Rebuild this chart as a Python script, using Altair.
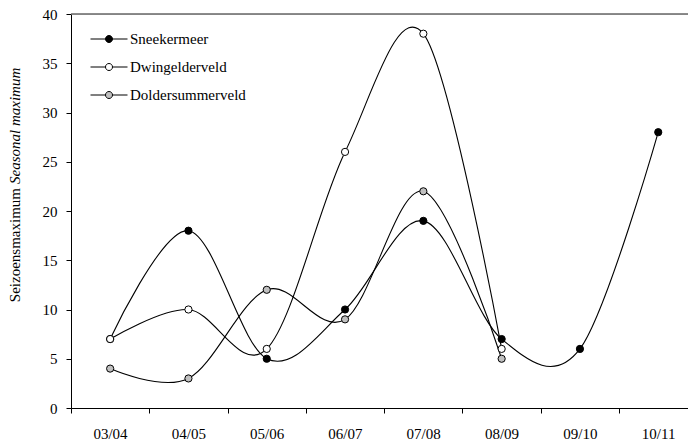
import altair as alt
import pandas as pd

seasons = ["03/04", "04/05", "05/06", "06/07", "07/08", "08/09", "09/10", "10/11"]
series_names = ["Sneekermeer", "Dwingelderveld", "Doldersummerveld"]
sneekermeer = [7, 18, 5, 10, 19, 7, 6, 28]
dwingelderveld = [7, 10, 6, 26, 38, 6]
doldersummerveld = [4, 3, 12, 9, 22, 5]
marker_fills = ["#000000", "#ffffff", "#c0c0c0"]
y_ticks = [0, 5, 10, 15, 20, 25, 30, 35, 40]

rows = []
for name, vals in zip(series_names, [sneekermeer, dwingelderveld, doldersummerveld]):
    for i, v in enumerate(vals):
        rows.append({"series": name, "season": seasons[i], "idx": i, "value": v})
df = pd.DataFrame(rows)

FONT = "'Liberation Serif', 'Times New Roman', serif"
W, H = 617, 394

label_arr = "[" + ",".join("'%s'" % s for s in seasons) + "]"
x_enc = alt.X(
    "idx:Q",
    scale=alt.Scale(domain=[-0.5, 7.38], nice=False, zero=False),
    axis=alt.Axis(
        title=None,
        values=[i - 0.5 for i in range(len(seasons))],
        labelExpr=label_arr + "[round(datum.value + 0.5)]",
        labelOffset=39,
        labelFlush=False,
        labelOverlap=False,
        tickSize=5,
        labelPadding=13,
        grid=False,
        domainColor="black",
        tickColor="black",
        labelFont=FONT,
        labelFontSize=15,
        labelColor="black",
    ),
)
y_enc = alt.Y(
    "value:Q",
    scale=alt.Scale(domain=[0, 40], nice=False),
    axis=alt.Axis(
        title=None,
        values=y_ticks,
        tickSize=5,
        labelPadding=9,
        grid=False,
        domainColor="black",
        tickColor="black",
        labelFont=FONT,
        labelFontSize=15,
        labelColor="black",
    ),
)

legend_path = ("M-1,0L-0.19,0M0.19,0L1,0M0.19,0A0.19,0.19,0,1,1,-0.19,0"
               "A0.19,0.19,0,1,1,0.19,0Z")

base = alt.Chart(df)
lines = base.mark_line(interpolate="cardinal", color="black", strokeWidth=1.1).encode(
    x=x_enc, y=y_enc, detail="series:N"
)
points = base.mark_point(filled=True, size=52, stroke="black", strokeWidth=1, opacity=1).encode(
    x=x_enc,
    y=y_enc,
    fill=alt.Fill(
        "series:N",
        scale=alt.Scale(domain=series_names, range=marker_fills),
        legend=alt.Legend(
            title=None,
            orient="none",
            legendX=19,
            legendY=6,
            symbolType=legend_path,
            symbolSize=1369,
            symbolStrokeColor="black",
            symbolStrokeWidth=1,
            labelFont=FONT,
            labelFontSize=15,
            labelColor="black",
            rowPadding=1,
            labelOffset=2,
        ),
    ),
)

top_rule = alt.Chart(alt.Data(values=[{}])).mark_rule(color="#666666", strokeWidth=1.5).encode(
    x=alt.value(0), x2=alt.value(W), y=alt.value(0)
)

title_a = alt.Chart(alt.Data(values=[{}])).mark_text(
    text="Seizoensmaximum", angle=270, align="right", baseline="middle",
    font=FONT, fontSize=15, color="black"
).encode(x=alt.value(-56), y=alt.value(188 - 14), size=alt.value(15))
title_b = alt.Chart(alt.Data(values=[{}])).mark_text(
    text="Seasonal maximum", angle=270, align="left", baseline="middle",
    font=FONT, fontSize=15, fontStyle="italic", color="black"
).encode(x=alt.value(-56), y=alt.value(184 - 14), size=alt.value(15))

chart = alt.layer(lines, points, top_rule, title_a, title_b).properties(
    width=W, height=H,
    padding={"left": 71, "top": 14, "right": 0, "bottom": 36},
    autosize=alt.AutoSizeParams(type="none"),
).configure_view(stroke=None).configure(background="white").configure_legend(
    labelFont=FONT
)

chart.save("out.html", embed_options={"renderer": "svg", "actions": False})
